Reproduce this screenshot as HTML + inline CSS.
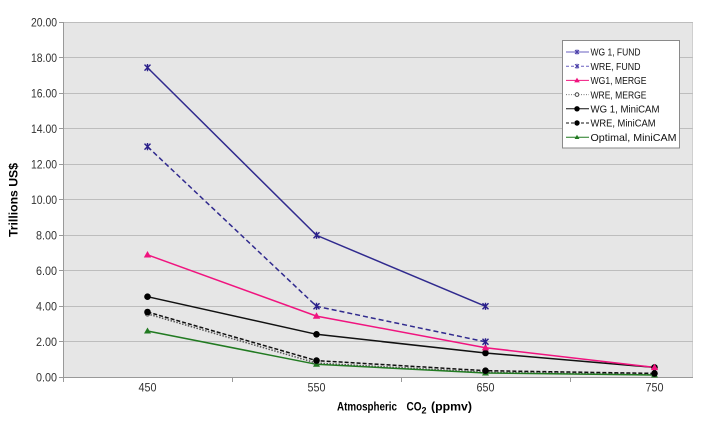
<!DOCTYPE html>
<html><head><meta charset="utf-8"><style>
html,body{margin:0;padding:0;background:#fff;}
svg{display:block;}
text{font-family:"Liberation Sans",Arial,sans-serif;}
</style></head><body>
<svg width="706" height="439" viewBox="0 0 706 439" xmlns="http://www.w3.org/2000/svg">
<rect x="0" y="0" width="706" height="439" fill="#fff"/>
<!-- plot area -->
<rect x="63" y="22.5" width="630" height="355" fill="#e6e6e6"/>
<line x1="692.5" y1="22.5" x2="692.5" y2="377.5" stroke="#cfcfcf" stroke-width="1"/>
<g stroke="#bdbdbd" stroke-width="1">
<line x1="63" y1="22.5" x2="693" y2="22.5"/>
<line x1="63" y1="57.5" x2="693" y2="57.5"/>
<line x1="63" y1="93.5" x2="693" y2="93.5"/>
<line x1="63" y1="128.5" x2="693" y2="128.5"/>
<line x1="63" y1="164.5" x2="693" y2="164.5"/>
<line x1="63" y1="199.5" x2="693" y2="199.5"/>
<line x1="63" y1="235.5" x2="693" y2="235.5"/>
<line x1="63" y1="270.5" x2="693" y2="270.5"/>
<line x1="63" y1="306.5" x2="693" y2="306.5"/>
<line x1="63" y1="341.5" x2="693" y2="341.5"/>
</g>
<!-- axes -->
<g stroke="#999" stroke-width="1">
<line x1="63.5" y1="22" x2="63.5" y2="378"/>
<line x1="63" y1="377.5" x2="693" y2="377.5"/>
<line x1="59" y1="22.5" x2="63" y2="22.5"/>
<line x1="59" y1="57.5" x2="63" y2="57.5"/>
<line x1="59" y1="93.5" x2="63" y2="93.5"/>
<line x1="59" y1="128.5" x2="63" y2="128.5"/>
<line x1="59" y1="164.5" x2="63" y2="164.5"/>
<line x1="59" y1="199.5" x2="63" y2="199.5"/>
<line x1="59" y1="235.5" x2="63" y2="235.5"/>
<line x1="59" y1="270.5" x2="63" y2="270.5"/>
<line x1="59" y1="306.5" x2="63" y2="306.5"/>
<line x1="59" y1="341.5" x2="63" y2="341.5"/>
<line x1="59" y1="377.5" x2="63" y2="377.5"/>
<line x1="63.5" y1="377" x2="63.5" y2="382"/>
<line x1="232.5" y1="377" x2="232.5" y2="382"/>
<line x1="401.5" y1="377" x2="401.5" y2="382"/>
<line x1="570.5" y1="377" x2="570.5" y2="382"/>
</g>
<!-- y tick labels -->
<g font-size="12" fill="#333" text-anchor="end">
<text x="57" y="26.5" textLength="26" lengthAdjust="spacingAndGlyphs">20.00</text>
<text x="57" y="62" textLength="26" lengthAdjust="spacingAndGlyphs">18.00</text>
<text x="57" y="97.5" textLength="26" lengthAdjust="spacingAndGlyphs">16.00</text>
<text x="57" y="133" textLength="26" lengthAdjust="spacingAndGlyphs">14.00</text>
<text x="57" y="168.5" textLength="26" lengthAdjust="spacingAndGlyphs">12.00</text>
<text x="57" y="204" textLength="26" lengthAdjust="spacingAndGlyphs">10.00</text>
<text x="57" y="239.5" textLength="21" lengthAdjust="spacingAndGlyphs">8.00</text>
<text x="57" y="275" textLength="21" lengthAdjust="spacingAndGlyphs">6.00</text>
<text x="57" y="310.5" textLength="21" lengthAdjust="spacingAndGlyphs">4.00</text>
<text x="57" y="346" textLength="21" lengthAdjust="spacingAndGlyphs">2.00</text>
<text x="57" y="381.5" textLength="21" lengthAdjust="spacingAndGlyphs">0.00</text>
</g>
<!-- x tick labels -->
<g font-size="12" fill="#333" text-anchor="middle">
<text x="147.5" y="391.5" textLength="18" lengthAdjust="spacingAndGlyphs">450</text>
<text x="316.5" y="391.5" textLength="18" lengthAdjust="spacingAndGlyphs">550</text>
<text x="485.5" y="391.5" textLength="18" lengthAdjust="spacingAndGlyphs">650</text>
<text x="654.5" y="391.5" textLength="18" lengthAdjust="spacingAndGlyphs">750</text>
</g>
<!-- axis titles -->
<text transform="translate(17.5,200) rotate(-90)" font-size="12" font-weight="bold" fill="#000" text-anchor="middle" textLength="74" lengthAdjust="spacingAndGlyphs">Trillions  US$</text>
<g font-size="12" font-weight="bold" fill="#000">
<text x="337" y="410.5" textLength="60" lengthAdjust="spacingAndGlyphs">Atmospheric</text>
<text x="406.5" y="410.5" textLength="15" lengthAdjust="spacingAndGlyphs">CO</text>
<text x="421.5" y="413.5" font-size="9">2</text>
<text x="431" y="410.5" textLength="41" lengthAdjust="spacingAndGlyphs">(ppmv)</text>
</g>

<!-- series -->
<!-- WRE MERGE dotted -->
<polyline points="147.5,313.9 316.5,363.1 485.5,372.3 654.5,374.8" fill="none" stroke="#555" stroke-width="1.5" stroke-dasharray="1.5,1.5"/>
<!-- Optimal MiniCAM green -->
<polyline points="147.5,331 316.5,364.3 485.5,373 654.5,375" fill="none" stroke="#217a21" stroke-width="1.5"/>
<!-- WRE MiniCAM dashed black -->
<polyline points="147.5,312 316.5,360.6 485.5,370.7 654.5,373.4" fill="none" stroke="#111" stroke-width="1.5" stroke-dasharray="4,2"/>
<!-- WG1 MiniCAM -->
<polyline points="147.5,296.7 316.5,334.3 485.5,353 654.5,367.4" fill="none" stroke="#111" stroke-width="1.5"/>
<!-- WG1 MERGE -->
<polyline points="147.5,254.8 316.5,316.1 485.5,347.7 654.5,367.4" fill="none" stroke="#f0147f" stroke-width="1.5"/>
<!-- WRE FUND dashed -->
<polyline points="147.5,146.6 316.5,306.3 485.5,341.8" fill="none" stroke="#302a8e" stroke-width="1.5" stroke-dasharray="5,3"/>
<!-- WG1 FUND -->
<polyline points="147.5,67.6 316.5,235.3 485.5,306.3" fill="none" stroke="#302a8e" stroke-width="1.5"/>

<!-- markers -->
<g fill="#fff" stroke="#555" stroke-width="1">
<circle cx="147.5" cy="313.9" r="2.2"/><circle cx="316.5" cy="363.1" r="2.2"/><circle cx="485.5" cy="372.3" r="2.2"/><circle cx="654.5" cy="374.8" r="2.2"/>
</g>
<g fill="#217a21">
<polygon points="147.5,327.5 144,333.5 151,333.5"/>
<polygon points="316.5,360.8 313,366.8 320,366.8"/>
<polygon points="485.5,369.5 482,375.5 489,375.5"/>
<polygon points="654.5,371.5 651,377.5 658,377.5"/>
</g>
<g fill="#000">
<circle cx="147.5" cy="312" r="3.3"/><circle cx="316.5" cy="360.6" r="3.3"/><circle cx="485.5" cy="370.7" r="3.3"/><circle cx="654.5" cy="373.4" r="3.3"/>
<circle cx="147.5" cy="296.7" r="3.3"/><circle cx="316.5" cy="334.3" r="3.3"/><circle cx="485.5" cy="353" r="3.3"/><circle cx="654.5" cy="367.4" r="3.3"/>
</g>
<g fill="#f0147f">
<polygon points="147.5,251 143.8,257.5 151.2,257.5"/>
<polygon points="316.5,312.3 312.8,318.8 320.2,318.8"/>
<polygon points="485.5,343.9 481.8,350.4 489.2,350.4"/>
<polygon points="654.5,363.6 650.8,370.1 658.2,370.1"/>
</g>
<g stroke="#2a1f8a" stroke-width="1.4" fill="none">
<path d="M144.5,64.6 L150.5,70.6 M144.5,70.6 L150.5,64.6 M147.5,64 L147.5,71.2"/>
<path d="M313.5,232.3 L319.5,238.3 M313.5,238.3 L319.5,232.3 M316.5,231.7 L316.5,238.9"/>
<path d="M482.5,303.3 L488.5,309.3 M482.5,309.3 L488.5,303.3 M485.5,302.7 L485.5,309.9"/>
<path d="M144.5,143.6 L150.5,149.6 M144.5,149.6 L150.5,143.6 M147.5,143 L147.5,150.2"/>
<path d="M313.5,303.3 L319.5,309.3 M313.5,309.3 L319.5,303.3 M316.5,302.7 L316.5,309.9"/>
<path d="M482.5,338.8 L488.5,344.8 M482.5,344.8 L488.5,338.8 M485.5,338.2 L485.5,345.4"/>
</g>

<!-- legend -->
<rect x="562.5" y="40.5" width="117" height="107.5" fill="#fff" stroke="#8a8a8a" stroke-width="1"/>
<g stroke-width="1" fill="none">
<line x1="566" y1="52" x2="589" y2="52" stroke="#6a60c0"/>
<path d="M575,50 L579,54 M575,54 L579,50 M577,49.5 L577,54.5" stroke="#4a3fa8"/>
<line x1="566" y1="66.2" x2="589" y2="66.2" stroke="#6a60c0" stroke-dasharray="3,2"/>
<path d="M575,64.2 L579,68.2 M575,68.2 L579,64.2 M577,63.7 L577,68.7" stroke="#4a3fa8"/>
<line x1="566" y1="80.4" x2="589" y2="80.4" stroke="#f0147f"/>
<line x1="566" y1="94.6" x2="589" y2="94.6" stroke="#777" stroke-dasharray="1,1.5"/>
<circle cx="577" cy="94.6" r="1.8" stroke="#444" fill="#fff"/>
<line x1="566" y1="108.8" x2="589" y2="108.8" stroke="#111"/>
<line x1="566" y1="123" x2="589" y2="123" stroke="#111" stroke-dasharray="3,2"/>
<line x1="566" y1="137.2" x2="589" y2="137.2" stroke="#217a21"/>
</g>
<polygon points="577,77.6 574.2,82.4 579.8,82.4" fill="#f0147f"/>
<circle cx="577" cy="108.8" r="2.7" fill="#000"/>
<circle cx="577" cy="123" r="2.7" fill="#000"/>
<polygon points="577,134.8 574.6,139 579.4,139" fill="#217a21"/>
<g font-size="10.5" fill="#111">
<text x="590.5" y="55.7" textLength="50" lengthAdjust="spacingAndGlyphs">WG 1, FUND</text>
<text x="590.5" y="69.9" textLength="50" lengthAdjust="spacingAndGlyphs">WRE,  FUND</text>
<text x="590.5" y="84.1" textLength="56" lengthAdjust="spacingAndGlyphs">WG1, MERGE</text>
<text x="590.5" y="98.3" textLength="56" lengthAdjust="spacingAndGlyphs">WRE, MERGE</text>
<text x="590.5" y="112.5" textLength="69" lengthAdjust="spacingAndGlyphs">WG 1, MiniCAM</text>
<text x="590.5" y="126.7" textLength="65" lengthAdjust="spacingAndGlyphs">WRE, MiniCAM</text>
<text x="590.5" y="140.9" textLength="86" lengthAdjust="spacingAndGlyphs">Optimal, MiniCAM</text>
</g>
</svg>
</body></html>
